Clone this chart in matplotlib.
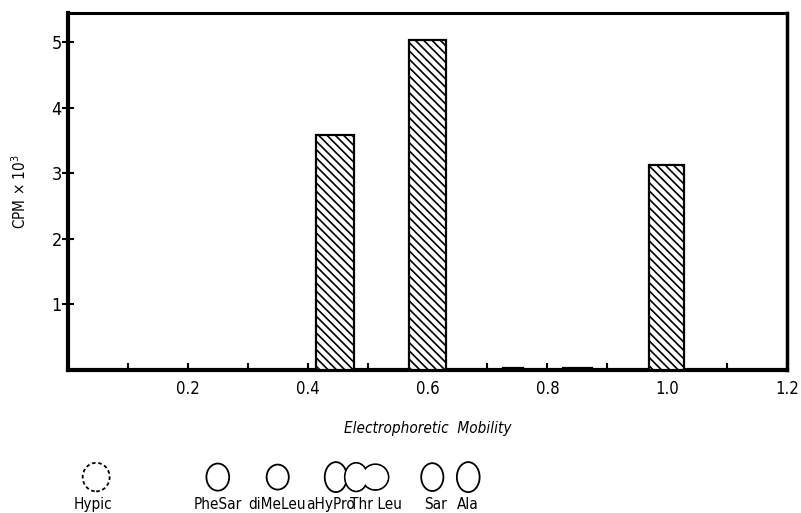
import matplotlib
matplotlib.use('Agg')
import matplotlib.pyplot as plt
import matplotlib.transforms as mtransforms
from matplotlib.patches import Ellipse

plt.rcParams['font.family'] = ['DejaVu Sans']
plt.rcParams['font.stretch'] = 'condensed'
plt.rcParams['hatch.linewidth'] = 1.2

# bar data (mobility, CPM x 10^3, width)
mobility = [0.446, 0.600, 0.743, 0.850, 0.999]
cpm = [3.59, 5.04, 0.03, 0.03, 3.13]
widths = [0.063, 0.063, 0.033, 0.048, 0.058]

xticks = [0.2, 0.4, 0.6, 0.8, 1.0, 1.2]
xticklabels = ['0.2', '0.4', '0.6', '0.8', '1.0', '1.2']
yticks = [1, 2, 3, 4, 5]

# standard spots shown below the axis
spot_names = ['Hypic', 'PheSar', 'diMeLeu', 'aHyPro', 'Thr Leu', 'Sar', 'Ala']
spot_label_x = [0.042, 0.250, 0.349, 0.438, 0.514, 0.613, 0.668]
spot_x = [0.047, 0.250, 0.350, 0.447, 0.481, 0.608, 0.668, 0.513]
spot_w = [0.045, 0.038, 0.037, 0.037, 0.038, 0.037, 0.038, 0.044]
spot_h = [0.080, 0.076, 0.070, 0.084, 0.080, 0.078, 0.084, 0.072]
spot_dashed = [True, False, False, False, False, False, False, False]

fig = plt.figure(figsize=(8.01, 5.13), dpi=100)
ax = fig.add_axes([68/801, 1-370/513, 719/801, 357/513])

ax.bar(mobility, cpm, width=widths, color='white', edgecolor='black',
       linewidth=1.6, hatch='\\\\\\\\', zorder=3)

ax.set_xlim(0, 1.2)
ax.set_ylim(0, 5.45)
ax.set_xticks(xticks)
ax.set_xticklabels(xticklabels, fontsize=12)
ax.set_xticks([0.1, 0.3, 0.5, 0.7, 0.9, 1.1], minor=True)
ax.set_yticks(yticks)
ax.set_yticklabels([str(v) for v in yticks], fontsize=13)
ax.tick_params(axis='x', which='both', direction='in', length=5, width=1.5, pad=7)
ax.tick_params(axis='y', direction='inout', length=9, width=1.5, pad=0)

ax.spines['left'].set_linewidth(3)
ax.spines['bottom'].set_linewidth(3)
ax.spines['right'].set_linewidth(2.5)
ax.spines['top'].set_linewidth(2.2)

ax.set_ylabel('CPM \u00d7 10$^3$', fontsize=11, labelpad=16)
ax.set_xlabel('Electrophoretic  Mobility', fontsize=11, style='italic', labelpad=17)

trans = mtransforms.blended_transform_factory(ax.transData, ax.transAxes)
for x, w, h, d in zip(spot_x, spot_w, spot_h, spot_dashed):
    ax.add_patch(Ellipse((x, -0.300), w, h, transform=trans, clip_on=False,
                         facecolor='white', edgecolor='black', linewidth=1.3,
                         linestyle=(0, (2, 1.5)) if d else '-', zorder=4))
# hide the inner arcs of the merged Thr/Leu spot
for x, w, h in zip(spot_x[4::3], spot_w[4::3], spot_h[4::3]):
    ax.add_patch(Ellipse((x, -0.300), w * 0.93, h * 0.93, transform=trans,
                         clip_on=False, facecolor='white', edgecolor='none', zorder=5))
for name, x in zip(spot_names, spot_label_x):
    ax.text(x, -0.378, name, transform=trans, ha='center', va='center', fontsize=11)

fig.savefig('out.png', dpi=100)
